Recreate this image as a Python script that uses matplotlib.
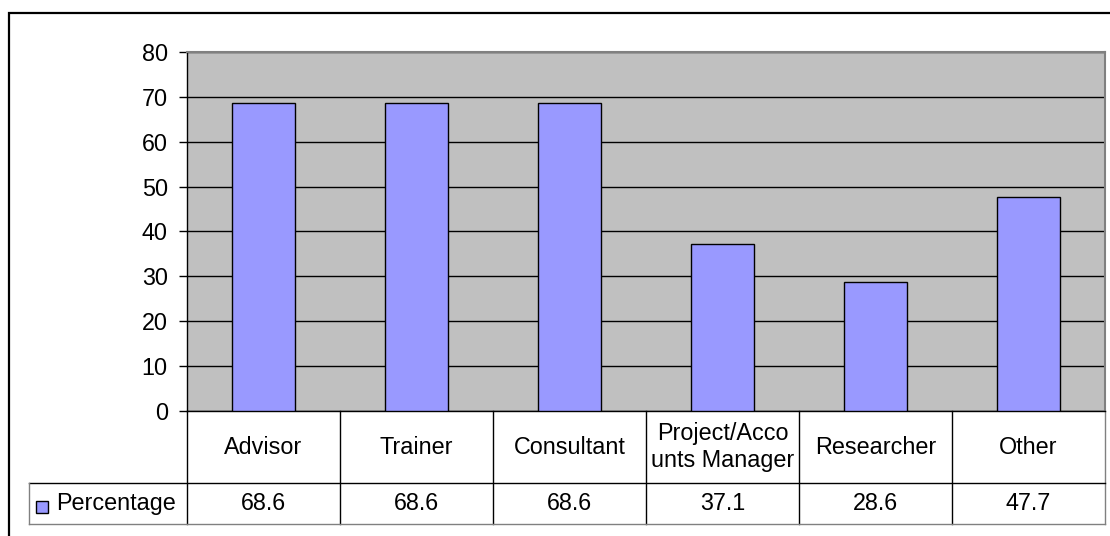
import matplotlib
matplotlib.use("Agg")
import matplotlib.pyplot as plt
from matplotlib.patches import Rectangle
from matplotlib.lines import Line2D
import matplotlib.transforms as mtransforms

categories = ["Advisor", "Trainer", "Consultant", "Project/Acco\nunts Manager", "Researcher", "Other"]
values = [68.6, 68.6, 68.6, 37.1, 28.6, 47.7]
value_labels = ["68.6", "68.6", "68.6", "37.1", "28.6", "47.7"]
series_name = "Percentage"
yticks = [0, 10, 20, 30, 40, 50, 60, 70, 80]

FS = 16.8
W, H = 1110, 536
plt.rcParams['font.family'] = ['Liberation Sans', 'DejaVu Sans']
fig = plt.figure(figsize=(W / 100, H / 100), dpi=100)
fig.patch.set_facecolor('white')

L, R, T, B = 187, 1105, 52, 410.7
ax = fig.add_axes([L / W, 1 - B / H, (R - L) / W, (B - T) / H])
ax.set_facecolor('#C0C0C0')
x = list(range(len(categories)))
ax.bar(x, values, width=0.41, color='#9999FF', edgecolor='black', linewidth=1.0, zorder=3)
ax.set_xlim(-0.5, len(categories) - 0.5)
ax.set_ylim(0, 80)
ax.set_yticks(yticks)
ax.set_yticklabels([str(t) for t in yticks], fontsize=FS)
ax.tick_params(axis='y', length=5.8, width=1, direction='out', pad=8, colors='black')
ax.tick_params(axis='x', length=0, labelbottom=False)
ax.yaxis.grid(True, color='black', linewidth=1.0, zorder=1)
ax.set_axisbelow(True)
for s in ['top', 'right']:
    ax.spines[s].set_color('#808080')
    ax.spines[s].set_linewidth(1.5)
ax.spines['left'].set_color('black')
ax.spines['bottom'].set_color('black')
ax.spines['left'].set_linewidth(1.0)
ax.spines['bottom'].set_linewidth(1.0)

# Data table below the axes
axh = B - T
row1 = -(483.3 - B) / axh
row2 = -(524 - B) / axh
leg_left = (29 - L) / (R - L)
trans = mtransforms.blended_transform_factory(ax.transData, ax.transAxes)
for i in range(len(categories) + 1):
    xi = i - 0.5
    col = '#808080' if i == len(categories) else 'black'
    ax.add_line(Line2D([xi, xi], [0, row2], transform=trans, color=col, linewidth=1.0, clip_on=False))
ax.add_line(Line2D([leg_left, 1], [row1, row1], transform=ax.transAxes, color='black', linewidth=1.0, clip_on=False))
ax.add_line(Line2D([leg_left, 1], [row2, row2], transform=ax.transAxes, color='#808080', linewidth=1.0, clip_on=False))
ax.add_line(Line2D([leg_left, leg_left], [row1, row2], transform=ax.transAxes, color='#808080', linewidth=1.0, clip_on=False))

for i, (c, v) in enumerate(zip(categories, value_labels)):
    ax.text(i, row1 / 2, c, transform=trans, ha='center', va='center', fontsize=FS, linespacing=1.25)
    ax.text(i, (row1 + row2) / 2, v, transform=trans, ha='center', va='center', fontsize=FS)

# legend key
kx = 36 / W
ky = 1 - 512.7 / H
fig.patches.append(Rectangle((kx, ky), 12 / W, 12 / H, transform=fig.transFigure,
                             facecolor='#9999FF', edgecolor='black', linewidth=1.0))
fig.text(56 / W, 1 - 503.5 / H, series_name, ha='left', va='center', fontsize=FS)

# outer chart frame
fig.patches.append(Rectangle((8.5 / W, -0.2), 1.5, 1 - 13 / H + 0.2, transform=fig.transFigure,
                             facecolor='none', edgecolor='black', linewidth=1.6))

fig.savefig('out.png', dpi=100)
